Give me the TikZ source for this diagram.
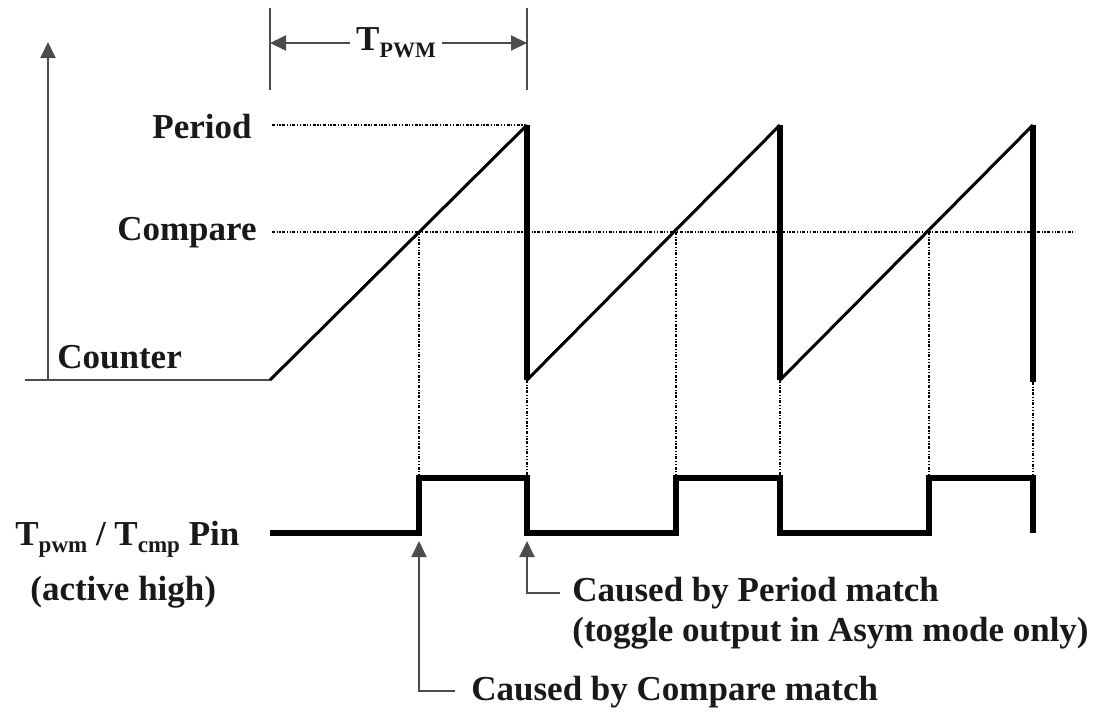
\documentclass[tikz,border=0pt]{standalone}
\usepackage{fontspec}
\setmainfont{Liberation Serif}
\usetikzlibrary{arrows.meta}
\begin{document}
\begin{tikzpicture}[x=0.5pt,y=-0.5pt,
  lbl/.style={font=\fontsize{17.5}{20}\selectfont\bfseries, inner sep=0pt, text=black!90},
  guide/.style={line width=1pt, draw=black!70},
  dimarrow/.style={line width=1pt, draw=black!70, -{Triangle[length=8pt,width=7.5pt]}},
  helper/.style={line width=0.55pt, dash pattern=on 1.5pt off 0.8pt on 0.6pt off 0.8pt on 0.6pt off 0.8pt},
  ramp/.style={line width=1.5pt, line join=miter},
  drop/.style={line width=2.6pt},
  pwm/.style={line width=2.7pt, line join=miter}]
\useasboundingbox (0,0) rectangle (1093,714);

% ---- coordinates
\coordinate (base0) at (25,380);
\coordinate (s0) at (270,380);
\coordinate (p1) at (527,125);
\coordinate (l1) at (527,380);
\coordinate (p2) at (780,125);
\coordinate (l2) at (780,380);
\coordinate (p3) at (1033,125);
\coordinate (l3) at (1033,382);
\coordinate (c1) at (419,232);
\coordinate (c2) at (676,232);
\coordinate (c3) at (929,232);
\coordinate (perL) at (272,125);
\coordinate (cmpL) at (272,232);
\coordinate (cmpR) at (1075,232);
\coordinate (axB) at (48,380);
\coordinate (axT) at (48,42);

% ---- axis
\draw[guide] (base0) -- (s0);
\draw[dimarrow] (axB) -- (axT);

% ---- dotted reference lines
\draw[helper] (perL) -- (p1);
\draw[helper] (cmpL) -- (cmpR);
\coordinate (c1h) at (419,478);
\coordinate (c2h) at (676,478);
\coordinate (c3h) at (929,478);
\coordinate (l1h) at (527,478);
\coordinate (l2h) at (780,478);
\coordinate (l3h) at (1033,478);
\draw[helper] (c1) -- (c1h);
\draw[helper] (c2) -- (c2h);
\draw[helper] (c3) -- (c3h);
\draw[helper] (l1) -- (l1h);
\draw[helper] (l2) -- (l2h);
\draw[helper] (l3) -- (l3h);

% ---- counter sawtooth
\draw[ramp] (s0) -- (p1);
\draw[drop] (p1) -- (l1);
\draw[ramp] (l1) -- (p2);
\draw[drop] (p2) -- (l2);
\draw[ramp] (l2) -- (p3);
\draw[drop] (p3) -- (l3);

% ---- PWM output
\coordinate (w0) at (270,533);
\draw[pwm] (w0) -- (419,533) -- (c1h) -- (l1h) -- (527,533) -- (676,533) -- (c2h)
  -- (l2h) -- (780,533) -- (929,533) -- (c3h) -- (l3h) -- (1033,533);

% ---- T_PWM dimension
\coordinate (dL1) at (270,8);
\coordinate (dL2) at (270,90);
\coordinate (dR1) at (527,8);
\coordinate (dR2) at (527,90);
\draw[guide] (dL1) -- (dL2);
\draw[guide] (dR1) -- (dR2);
\node[lbl, inner xsep=3pt] (tpwm) at (396,43) {T\raisebox{-0.45ex}{\fontsize{11}{11}\selectfont PWM}};
\coordinate (dLa) at (270,43);
\coordinate (dRa) at (527,43);
\draw[dimarrow] (tpwm.west) -- (dLa);
\draw[dimarrow] (tpwm.east) -- (dRa);

% ---- labels
\node[lbl, anchor=base east] (period) at (252,138) {Period};
\node[lbl, anchor=base east] (compare) at (257,240) {Compare};
\node[lbl, anchor=base west] (counter) at (57,368) {Counter};
\node[lbl, anchor=base west] (pin) at (15,545) {T\raisebox{-0.45ex}{\fontsize{11.5}{11}\selectfont pwm} / T\raisebox{-0.45ex}{\fontsize{11.5}{11}\selectfont cmp} Pin};
\node[lbl, anchor=base west] (act) at (30,600) {(active high)};

% ---- cause annotations
\node[lbl, anchor=base west] (cp) at (572,601) {Caused by Period match};
\node[lbl, anchor=base west] (tg) at (572,641) {(toggle output in Asym mode only)};
\node[lbl, anchor=base west] (cc) at (471,700) {Caused by Compare match};
\coordinate (aP) at (527,541);
\coordinate (aPc) at (527,593);
\coordinate (aPe) at (560,593);
\coordinate (aC) at (419,541);
\coordinate (aCc) at (419,691);
\coordinate (aCe) at (455,691);
\draw[dimarrow] (aPe) -- (aPc) -- (aP);
\draw[dimarrow] (aCe) -- (aCc) -- (aC);
\end{tikzpicture}
\end{document}
